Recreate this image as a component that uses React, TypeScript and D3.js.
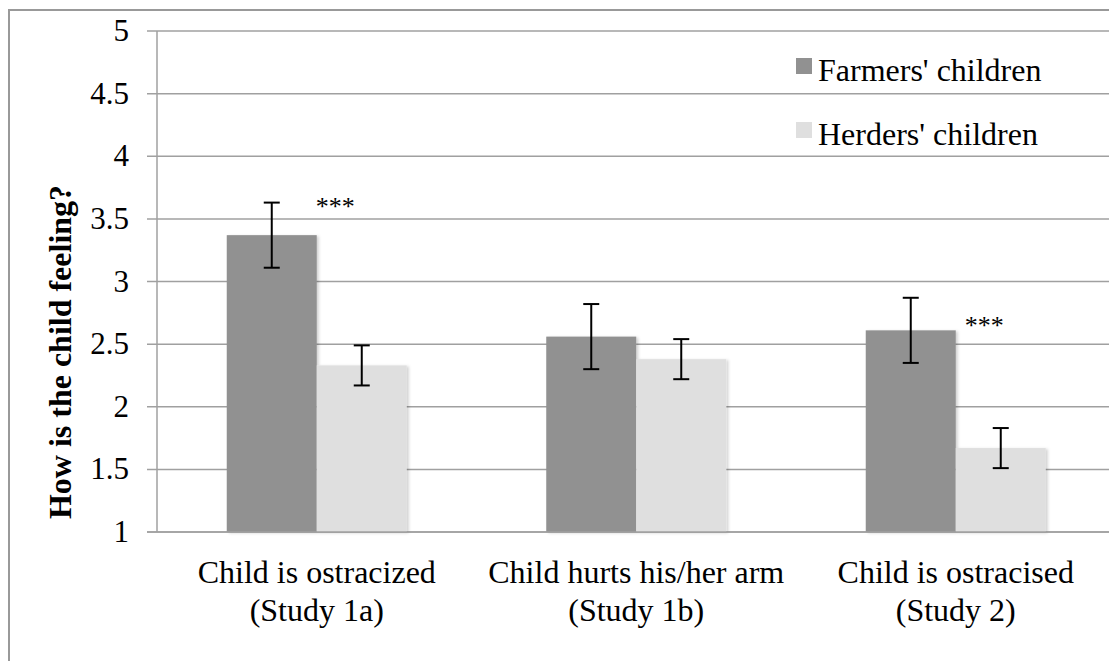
import { FC, useEffect, useRef } from 'react';
import * as d3 from 'd3';

const categories = ['Study 1a', 'Study 1b', 'Study 2'];
const categoryLines = [
  ['Child is ostracized', '(Study 1a)'],
  ['Child hurts his/her arm', '(Study 1b)'],
  ['Child is ostracised', '(Study 2)'],
];
const seriesNames = ["Farmers' children", "Herders' children"];
const farmers = [3.37, 2.56, 2.61];
const herders = [2.33, 2.38, 1.67];
const farmersErr = [0.26, 0.26, 0.26];
const herdersErr = [0.16, 0.16, 0.16];
const yTicks = [1, 1.5, 2, 2.5, 3, 3.5, 4, 4.5, 5];
// significance marks: category, y value of the mark
const starCats = ['Study 1a', 'Study 2'];
const starY = [3.64, 2.69];

const colors = ['#919191', '#dfdfdf'];
const font = '"Liberation Serif", "Times New Roman", serif';

const W = 1109;
const H = 661;

const App: FC = () => {
  const ref = useRef<SVGSVGElement>(null);

  useEffect(() => {
    document.body.style.margin = '0';
    const svg = d3.select(ref.current);
    svg.selectAll('*').remove();

    const left = 157;
    const right = 1115.5;
    const top = 31;
    const bottom = 532;

    const defs = svg.append('defs');
    const f = defs
      .append('filter')
      .attr('id', 'shadow')
      .attr('x', '-10%')
      .attr('y', '-10%')
      .attr('width', '130%')
      .attr('height', '130%');
    f.append('feDropShadow')
      .attr('dx', 2)
      .attr('dy', 1)
      .attr('stdDeviation', 1.5)
      .attr('flood-color', '#000')
      .attr('flood-opacity', 0.18);

    svg.append('rect').attr('width', W).attr('height', H).attr('fill', '#fff');

    // chart border (cropped at right/bottom)
    svg
      .append('rect')
      .attr('x', 9)
      .attr('y', 10)
      .attr('width', 1200)
      .attr('height', 800)
      .attr('fill', 'none')
      .attr('stroke', '#999')
      .attr('stroke-width', 2);

    const y = d3.scaleLinear().domain([1, 5]).range([bottom, top]);
    const x0 = d3.scaleBand().domain(categories).range([left, right]);
    const x1 = d3
      .scaleBand()
      .domain(seriesNames)
      .range([0, x0.bandwidth()])
      .paddingOuter(0.775);

    // grid + ticks
    svg
      .append('g')
      .selectAll('line')
      .data(yTicks)
      .join('line')
      .attr('x1', left - 10)
      .attr('x2', W + 10)
      .attr('y1', (d) => y(d))
      .attr('y2', (d) => y(d))
      .attr('stroke', '#a0a0a0')
      .attr('stroke-width', 1.5);

    svg
      .append('line')
      .attr('x1', left)
      .attr('x2', left)
      .attr('y1', top)
      .attr('y2', bottom)
      .attr('stroke', '#a0a0a0')
      .attr('stroke-width', 1.5);

    svg
      .append('g')
      .selectAll('text')
      .data(yTicks)
      .join('text')
      .attr('x', 129)
      .attr('y', (d) => y(d) + 10)
      .attr('text-anchor', 'end')
      .attr('font-family', font)
      .attr('font-size', 31)
      .text((d) => String(d));

    // bars
    const series = [
      { name: seriesNames[0], values: farmers, errs: farmersErr, color: colors[0] },
      { name: seriesNames[1], values: herders, errs: herdersErr, color: colors[1] },
    ];
    const rows = series.flatMap((s) =>
      categories.map((c, i) => ({ cat: c, name: s.name, v: s.values[i], e: s.errs[i], color: s.color }))
    );

    svg
      .append('g')
      .attr('filter', 'url(#shadow)')
      .selectAll('rect')
      .data(rows)
      .join('rect')
      .attr('x', (d) => x0(d.cat)! + x1(d.name)!)
      .attr('y', (d) => y(d.v))
      .attr('width', x1.bandwidth())
      .attr('height', (d) => y(1) - y(d.v))
      .attr('fill', (d) => d.color);

    // x axis line (over bars)
    svg
      .append('line')
      .attr('x1', left - 10)
      .attr('x2', W + 10)
      .attr('y1', bottom)
      .attr('y2', bottom)
      .attr('stroke', '#a0a0a0')
      .attr('stroke-width', 1.5);

    // error bars
    const eb = svg.append('g').attr('stroke', '#000').attr('stroke-width', 2);
    rows.forEach((d) => {
      const cx = x0(d.cat)! + x1(d.name)! + x1.bandwidth() / 2;
      const y1 = y(d.v + d.e);
      const y2 = y(d.v - d.e);
      eb.append('line').attr('x1', cx).attr('x2', cx).attr('y1', y1).attr('y2', y2);
      eb.append('line').attr('x1', cx - 8).attr('x2', cx + 8).attr('y1', y1).attr('y2', y1);
      eb.append('line').attr('x1', cx - 8).attr('x2', cx + 8).attr('y1', y2).attr('y2', y2);
    });

    // significance stars
    starCats.forEach((c, i) => {
      const xs = x0(c)! + x1(seriesNames[1])!;
      svg
        .append('text')
        .attr('x', xs + (i === 0 ? -1 : 9))
        .attr('y', y(starY[i]) + 14)
        .attr('font-family', font)
        .attr('font-size', 26)
        .text('***');
    });

    // category labels
    const cl = svg.append('g');
    categories.forEach((c, i) => {
      const cx = x0(c)! + x0.bandwidth() / 2;
      const t = cl
        .append('text')
        .attr('x', cx)
        .attr('y', 583)
        .attr('text-anchor', 'middle')
        .attr('font-family', font)
        .attr('font-size', 32);
      categoryLines[i].forEach((line, j) => {
        t.append('tspan')
          .attr('x', cx)
          .attr('dy', j === 0 ? 0 : 38)
          .text(line);
      });
    });

    // y title
    svg
      .append('text')
      .attr('transform', `translate(71,352) rotate(-90)`)
      .attr('text-anchor', 'middle')
      .attr('font-family', font)
      .attr('font-weight', 'bold')
      .attr('font-size', 32)
      .text('How is the child feeling?');

    // legend
    const lg = svg.append('g');
    series.forEach((s, i) => {
      const ly = 58 + i * 64;
      lg.append('rect').attr('x', 796).attr('y', ly).attr('width', 16).attr('height', 16).attr('fill', s.color);
      lg.append('text')
        .attr('x', 818)
        .attr('y', ly + 23)
        .attr('font-family', font)
        .attr('font-size', 32)
        .text(s.name);
    });
  }, []);

  return <svg ref={ref} width={W} height={H} style={{ display: 'block' }} />;
};

export default App;
